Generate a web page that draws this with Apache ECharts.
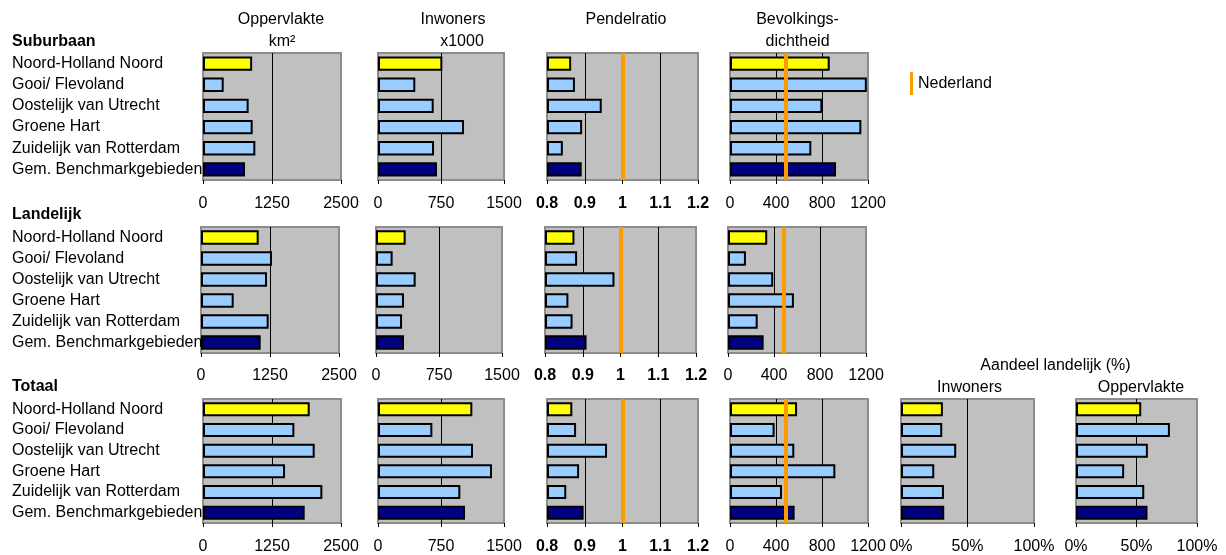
<!DOCTYPE html>
<html><head><meta charset="utf-8">
<script src="https://cdn.jsdelivr.net/npm/echarts@6/dist/echarts.min.js"></script>
<style>html,body{margin:0;padding:0;background:#fff}#c{width:1226px;height:555px}</style>
</head><body><div id="c"></div>
<script>
// ---------- DATA ----------
const categories = ['Noord-Holland Noord', 'Gooi/ Flevoland', 'Oostelijk van Utrecht', 'Groene Hart', 'Zuidelijk van Rotterdam', 'Gem. Benchmarkgebieden'];

const subOppervlakte = [890, 375, 827, 900, 948, 761];
const subInwoners = [766, 444, 663, 1024, 667, 702];
const subPendelratio = [0.864, 0.874, 0.945, 0.893, 0.842, 0.892];
const subDichtheid = [867, 1190, 803, 1142, 707, 922];

const lanOppervlakte = [1045, 1286, 1196, 592, 1226, 1081];
const lanInwoners = [353, 198, 472, 333, 310, 333];
const lanPendelratio = [0.878, 0.885, 0.984, 0.862, 0.873, 0.910];
const lanDichtheid = [341, 156, 393, 573, 258, 310];

const totOppervlakte = [1933, 1655, 2023, 1486, 2162, 1842];
const totInwoners = [1123, 647, 1131, 1357, 980, 1036];
const totPendelratio = [0.867, 0.877, 0.959, 0.885, 0.851, 0.897];
const totDichtheid = [583, 388, 559, 916, 452, 562];
const aandeelInwoners = [31.5, 31.0, 41.5, 25.0, 32.3, 32.5];
const aandeelOppervlakte = [53.9, 77.6, 59.4, 39.8, 56.4, 59.1];

const nederlandPendelratio = 1;
const nederlandDichtheid = 485;

const ticksOppervlakte = [0, 2500, 1250];
const ticksInwoners = [0, 1500, 750];
const ticksPendel = [0.8, 1.2, 0.1];
const ticksDichtheid = [0, 1200, 400];
const ticksPct = [0, 100, 50];

// ---------- STYLE / LAYOUT ----------
const FONT = 'Arial, "Liberation Sans", sans-serif';
const FS = 16;
const barColors = ['#FFFF00', '#99CCFF', '#99CCFF', '#99CCFF', '#99CCFF', '#000080'];
const NL_COLOR = '#FF9900';

const rows = [
  {top: 53, height: 127, margin: 16, shift: 0},
  {top: 227, height: 126, margin: 15, shift: -2},
  {top: 399, height: 126, margin: 16, shift: 0}
];

const panels = [
  {row: 0, values: subOppervlakte, ticks: ticksOppervlakte, left: 203, width: 138},
  {row: 0, values: subInwoners, ticks: ticksInwoners, left: 378, width: 126},
  {row: 0, values: subPendelratio, ticks: ticksPendel, left: 547, width: 151, nl: nederlandPendelratio, bold: true},
  {row: 0, values: subDichtheid, ticks: ticksDichtheid, left: 730, width: 138, nl: nederlandDichtheid},
  {row: 1, values: lanOppervlakte, ticks: ticksOppervlakte, left: 203, width: 138},
  {row: 1, values: lanInwoners, ticks: ticksInwoners, left: 378, width: 126},
  {row: 1, values: lanPendelratio, ticks: ticksPendel, left: 547, width: 151, nl: nederlandPendelratio, bold: true},
  {row: 1, values: lanDichtheid, ticks: ticksDichtheid, left: 730, width: 138, nl: nederlandDichtheid},
  {row: 2, values: totOppervlakte, ticks: ticksOppervlakte, left: 203, width: 138},
  {row: 2, values: totInwoners, ticks: ticksInwoners, left: 378, width: 126},
  {row: 2, values: totPendelratio, ticks: ticksPendel, left: 547, width: 151, nl: nederlandPendelratio, bold: true},
  {row: 2, values: totDichtheid, ticks: ticksDichtheid, left: 730, width: 138, nl: nederlandDichtheid},
  {row: 2, values: aandeelInwoners, ticks: ticksPct, left: 901, width: 133, pct: true},
  {row: 2, values: aandeelOppervlakte, ticks: ticksPct, left: 1076, width: 121, pct: true}
];

const grid = [], xAxis = [], yAxis = [], series = [];
panels.forEach((p, i) => {
  const r = rows[p.row];
  const left = p.left + r.shift;
  const firstInRow = i === panels.findIndex(q => q.row === p.row);
  grid.push({
    left: left, top: r.top, width: p.width, height: r.height,
    show: true, backgroundColor: '#C0C0C0', borderColor: '#8C8C8C', borderWidth: 2
  });
  xAxis.push({
    type: 'value', gridIndex: i, min: p.ticks[0], max: p.ticks[1], interval: p.ticks[2],
    startValue: p.ticks[0],
    axisLine: {show: false},
    axisTick: {show: true, length: 4, lineStyle: {color: '#000', width: 1}},
    axisLabel: {
      margin: r.margin, color: '#000', fontSize: FS, fontFamily: FONT,
      fontWeight: p.bold ? 'bold' : 'normal',
      formatter: p.pct ? (v => String(Math.round(v)) + '%') : (v => String(Math.round(v * 10) / 10)),
      showMinLabel: true, showMaxLabel: true
    },
    splitLine: {show: true, showMinLine: false, showMaxLine: false, lineStyle: {color: '#000', width: 1}}
  });
  yAxis.push({
    type: 'category', gridIndex: i, data: categories, inverse: true,
    axisLine: {show: false}, axisTick: {show: false}, splitLine: {show: false},
    axisLabel: {
      show: firstInRow, interval: 0, align: 'left', margin: left - 12,
      color: '#000', fontSize: FS, fontFamily: FONT
    }
  });
  const s = {
    type: 'bar', xAxisIndex: i, yAxisIndex: i, silent: true,
    barCategoryGap: '32%',
    itemStyle: {borderColor: '#000', borderWidth: 2},
    data: p.values.map((v, j) => ({value: v, itemStyle: {color: barColors[j]}}))
  };
  if (p.nl !== undefined) {
    s.markLine = {
      silent: true, symbol: ['none', 'none'], label: {show: false},
      lineStyle: {color: NL_COLOR, width: 4, type: 'solid'},
      data: [{xAxis: p.nl}]
    };
  }
  series.push(s);
});
// legend-only series for the Nederland reference line
series.push({type: 'line', name: 'Nederland', xAxisIndex: 2, yAxisIndex: 2, data: [], color: NL_COLOR, itemStyle: {color: NL_COLOR}});

function txt(text, x, y, align, bold) {
  return {
    type: 'text', x: x, y: y, silent: true,
    style: {text: text, fill: '#000', font: (bold ? 'bold ' : '') + FS + 'px ' + FONT,
      textAlign: align || 'center', textVerticalAlign: 'middle'}
  };
}

const graphic = [
  txt('Oppervlakte', 281, 20), txt('km²', 282, 42),
  txt('Inwoners', 453, 20), txt('x1000', 462, 42),
  txt('Pendelratio', 626, 20),
  txt('Bevolkings-', 797.5, 20), txt('dichtheid', 797.5, 42),
  txt('Suburbaan', 12, 42, 'left', true),
  txt('Landelijk', 12, 215, 'left', true),
  txt('Totaal', 12, 387, 'left', true),
  txt('Aandeel landelijk (%)', 1055.5, 366),
  txt('Inwoners', 969.5, 388), txt('Oppervlakte', 1141, 388)
];

const chart = echarts.init(document.getElementById('c'), null, {renderer: 'canvas'});
chart.setOption({
  animation: false,
  backgroundColor: '#fff',
  textStyle: {fontFamily: FONT},
  legend: {
    data: [{name: 'Nederland', icon: 'rect', itemStyle: {color: NL_COLOR}}],
    left: 910, top: 72, padding: 0, itemWidth: 3, itemHeight: 23, itemGap: 6,
    selectedMode: false,
    textStyle: {fontSize: FS, color: '#000', fontFamily: FONT}
  },
  grid: grid, xAxis: xAxis, yAxis: yAxis, series: series, graphic: graphic
});
</script></body></html>
